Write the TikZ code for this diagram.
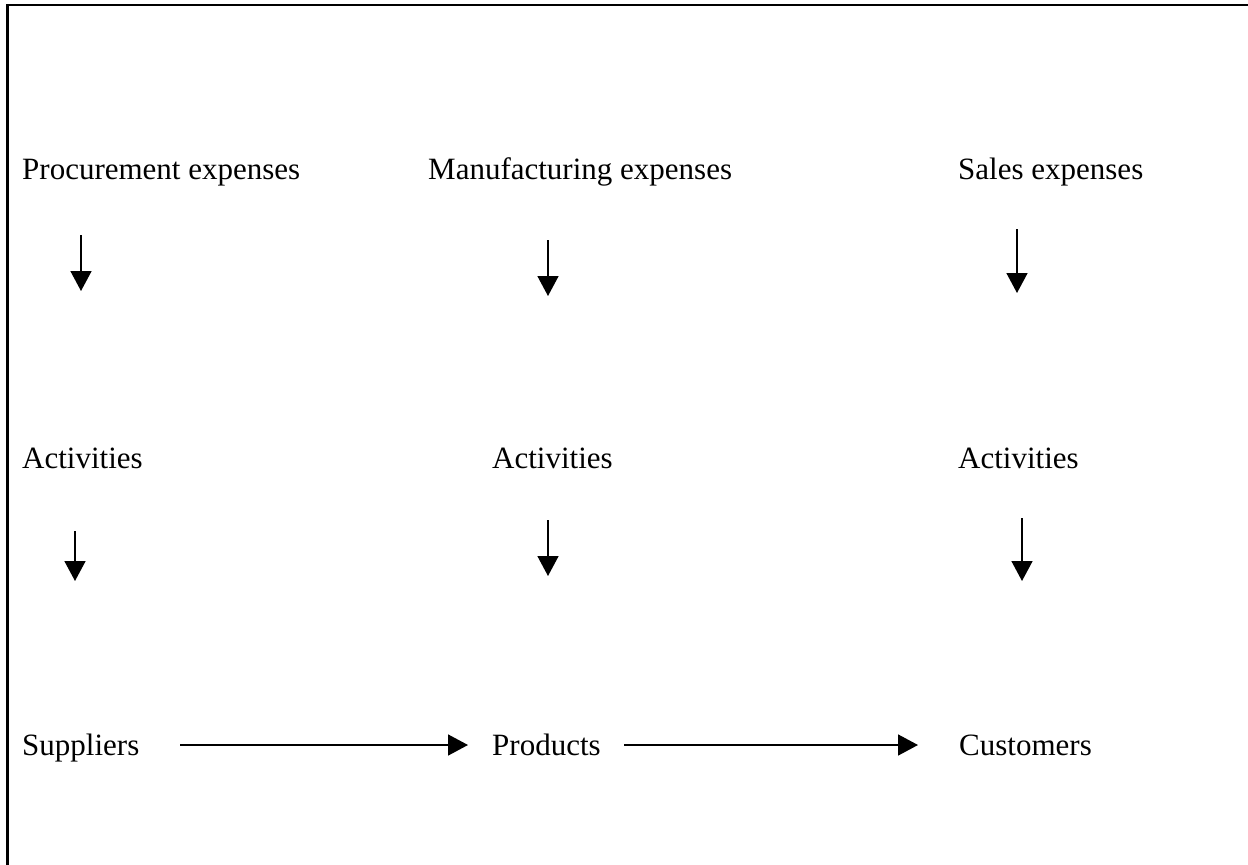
\documentclass[tikz,border=0pt]{standalone}
\usepackage{fontspec}
\setmainfont{Liberation Serif}
\usetikzlibrary{arrows.meta}
\begin{document}
\begin{tikzpicture}[x=1pt,y=-1pt,
  lbl/.style={anchor=base west,inner sep=0pt,font=\fontsize{31}{36}\selectfont},
  arr/.style={line width=1.6pt,-{Triangle[length=20pt,width=21pt]}},
  frame/.style={line width=2.5pt}]
\useasboundingbox (0,0) rectangle (1248,865);
\coordinate (fr1) at (1248,5);
\coordinate (fr2) at (7.5,5);
\coordinate (fr3) at (7.5,865);
\draw[frame] (fr1) -- (fr2) -- (fr3);
% row 1
\node[lbl] (pe) at (22,179) {Procurement expenses};
\node[lbl] (me) at (428,179) {Manufacturing expenses};
\node[lbl] (se) at (958,179) {Sales expenses};
% row 2
\node[lbl] (a1) at (22,468) {Activities};
\node[lbl] (a2) at (492,468) {Activities};
\node[lbl] (a3) at (958,468) {Activities};
% row 3
\node[lbl] (sup) at (22,755) {Suppliers};
\node[lbl] (prod) at (492,755) {Products};
\node[lbl] (cust) at (959,755) {Customers};
% vertical arrows
\coordinate (v1s) at (81,235);  \coordinate (v1e) at (81,291);
\coordinate (v2s) at (548,240); \coordinate (v2e) at (548,296);
\coordinate (v3s) at (1017,229);\coordinate (v3e) at (1017,293);
\coordinate (v4s) at (75,531);  \coordinate (v4e) at (75,581);
\coordinate (v5s) at (548,520); \coordinate (v5e) at (548,576);
\coordinate (v6s) at (1022,518);\coordinate (v6e) at (1022,581);
\draw[arr] (v1s) -- (v1e);
\draw[arr] (v2s) -- (v2e);
\draw[arr] (v3s) -- (v3e);
\draw[arr] (v4s) -- (v4e);
\draw[arr] (v5s) -- (v5e);
\draw[arr] (v6s) -- (v6e);
% horizontal arrows
\coordinate (h1s) at (180,745); \coordinate (h1e) at (468,745);
\coordinate (h2s) at (624,745); \coordinate (h2e) at (918,745);
\draw[arr] (h1s) -- (h1e);
\draw[arr] (h2s) -- (h2e);
\end{tikzpicture}
\end{document}
